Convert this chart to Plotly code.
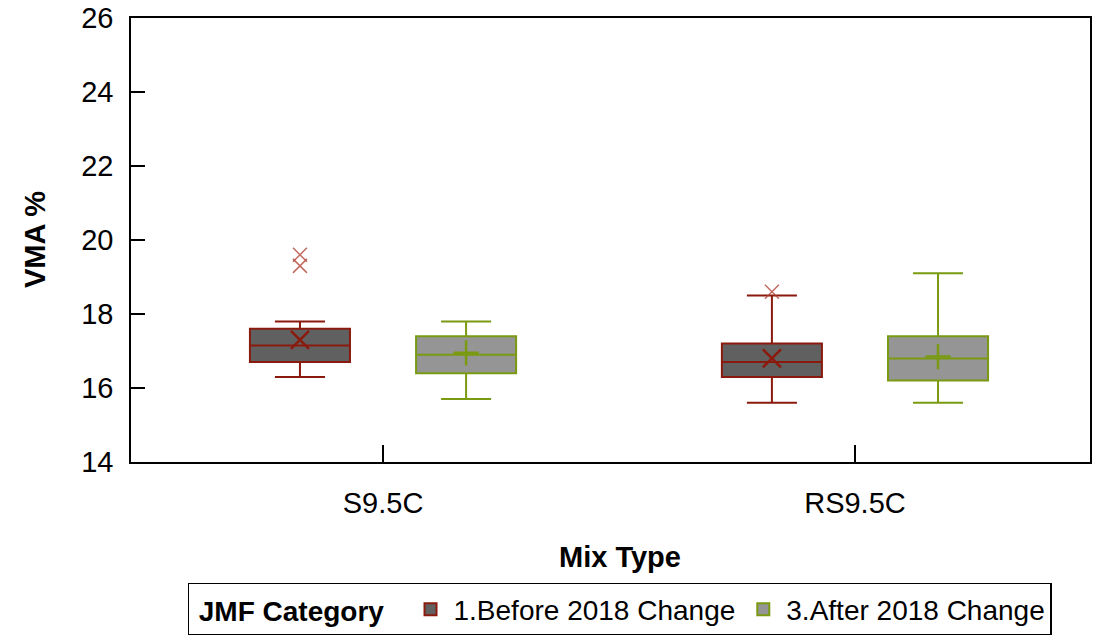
import plotly.graph_objects as go

categories = ["S9.5C", "RS9.5C"]
series = ["1.Before 2018 Change", "3.After 2018 Change"]

before_q1 = [16.7, 16.3]
before_median = [17.15, 16.7]
before_q3 = [17.6, 17.2]
before_low = [16.3, 15.6]
before_high = [17.8, 18.5]
before_mean = [17.3, 16.8]
before_outliers = [[19.6, 19.3], [18.6]]

after_q1 = [16.4, 16.2]
after_median = [16.9, 16.8]
after_q3 = [17.4, 17.4]
after_low = [15.7, 15.6]
after_high = [17.8, 19.1]
after_mean = [16.95, 16.85]
after_outliers = [[], []]

y_ticks = [14, 16, 18, 20, 22, 24, 26]

FONT = "Liberation Sans, Arial, sans-serif"
FS = 29
LFS = 28
offset = 0.176
bwidth = 0.212

styles = [
    dict(name=series[0], fill="#606060", line="#8B1A0E", outcol="rgba(180,70,60,0.8)", meansym="x-thin-open",
         q1=before_q1, med=before_median, q3=before_q3, lo=before_low, hi=before_high, mean=before_mean,
         out=before_outliers, sign=-1),
    dict(name=series[1], fill="#959595", line="#7A9A12", outcol="rgba(122,154,18,0.8)", meansym="cross-thin-open",
         q1=after_q1, med=after_median, q3=after_q3, lo=after_low, hi=after_high, mean=after_mean,
         out=after_outliers, sign=1),
]

fig = go.Figure()
for s in styles:
    xs = [i + s["sign"] * offset for i in range(len(categories))]
    fig.add_trace(go.Box(
        name=s["name"], x=xs, q1=s["q1"], median=s["med"], q3=s["q3"],
        lowerfence=s["lo"], upperfence=s["hi"], width=bwidth, whiskerwidth=0.5,
        fillcolor=s["fill"], line=dict(color=s["line"], width=2), boxpoints=False,
        hoverinfo="y",
    ))
    fig.add_trace(go.Scatter(
        x=xs, y=s["mean"], mode="markers", showlegend=False,
        marker=dict(symbol=s["meansym"], size=18, color=s["line"], line=dict(color=s["line"], width=2.5)),
    ))
    ox, oy = [], []
    for i, vals in enumerate(s["out"]):
        for v in vals:
            ox.append(xs[i]); oy.append(v)
    if ox:
        fig.add_trace(go.Scatter(
            x=ox, y=oy, mode="markers", showlegend=False,
            marker=dict(symbol="x-thin-open", size=14, color=s["outcol"], line=dict(color=s["outcol"], width=1.5)),
        ))

fig.update_layout(
    width=1102, height=635,
    margin=dict(l=131, r=12, t=18, b=173, autoexpand=False),
    plot_bgcolor="white", paper_bgcolor="white",
    font=dict(family=FONT, size=FS, color="black"),
    showlegend=True,
    legend=dict(
        orientation="h", x=0.5094, xanchor="center", y=-0.2725, yanchor="top",
        title=dict(text="\u00a0<b>JMF Category</b>\u00a0\u00a0", font=dict(size=LFS)),
        bordercolor="black", borderwidth=1.5, font=dict(size=LFS),
        tracegroupgap=0, itemwidth=36,
    ),
    annotations=[
        dict(text="<b>VMA %</b>", xref="paper", yref="paper", x=-0.1, y=0.5,
             xanchor="center", yanchor="middle", textangle=-90, showarrow=False,
             font=dict(size=FS)),
        dict(text="<b>Mix Type</b>", xref="paper", yref="paper", x=0.51, y=-0.214,
             xanchor="center", yanchor="middle", showarrow=False, font=dict(size=FS)),
    ],
)
fig.update_xaxes(
    range=[-0.534, 1.498], tickvals=list(range(len(categories))), ticktext=categories,
    showline=True, mirror=True, linecolor="black", linewidth=1.5,
    ticks="inside", ticklen=17, tickwidth=1.5, tickcolor="black",
    showgrid=False, zeroline=False, automargin=False, ticklabelstandoff=14,
    tickfont=dict(size=FS),
)
fig.update_yaxes(
    range=[14, 26], tickvals=y_ticks,
    showline=True, mirror=True, linecolor="black", linewidth=1.5,
    ticks="inside", ticklen=14, tickwidth=1.5, tickcolor="black",
    showgrid=False, zeroline=False, automargin=False, ticklabelstandoff=10,
    tickfont=dict(size=FS),
)

fig.write_html("out.html", config={"displayModeBar": False},
               post_script="document.body.style.margin='0';document.body.style.overflow='hidden';")
